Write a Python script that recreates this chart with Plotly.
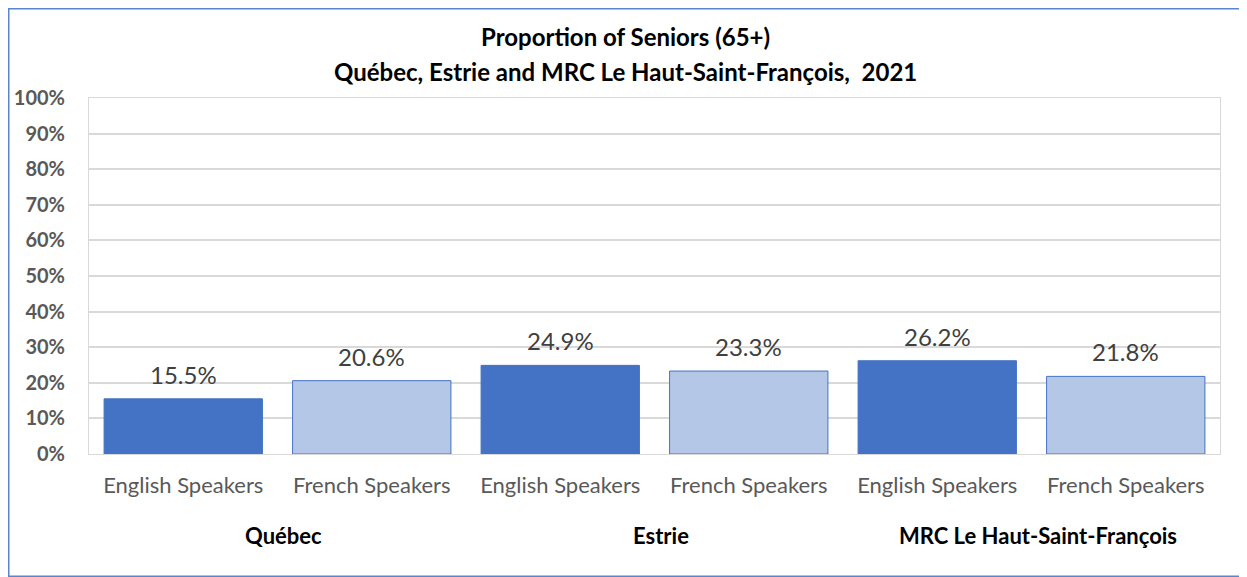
import plotly.graph_objects as go

# data
regions = ['Québec', 'Estrie', 'MRC Le Haut-Saint-François']
speakers = ['English Speakers', 'French Speakers'] * 3
seniors = [0.155, 0.206, 0.249, 0.233, 0.262, 0.218]
bar_colors = ['#4472C4', '#B4C7E7'] * 3
y_ticks = [0, 0.1, 0.2, 0.3, 0.4, 0.5, 0.6, 0.7, 0.8, 0.9, 1.0]

# unique category keys, one per bar
keys = ['%s | %s' % (regions[i // 2], speakers[i]) for i in range(len(speakers))]

# the page body has an 8px margin, so the figure is drawn 16px smaller
W, H = 1239, 569
ml, mr, mt, mb = 81, 27, 90, 123
pw, ph = W - ml - mr, H - mt - mb
title_x = (W / 2 - 2 - ml) / pw

fig = go.Figure()
fig.add_trace(go.Bar(
    x=keys,
    y=seniors,
    marker=dict(color=bar_colors, line=dict(color='#4472C4', width=1)),
    hoverinfo='x+y',
))

# value labels above each bar
for k, v in zip(keys, seniors):
    fig.add_annotation(x=k, y=v, text='%.1f%%' % (v * 100), showarrow=False,
                       yanchor='bottom', yshift=8,
                       font=dict(size=24, color='#404040'))

# region names under each pair of bars
for i, r in enumerate(regions):
    fig.add_annotation(x=2 * i + 0.5, xref='x', y=(ph - (H - 42 - mt)) / ph, yref='paper',
                       text='<b>%s</b>' % r, showarrow=False, yanchor='middle', xshift=6,
                       font=dict(size=22, color='#000000'))

# two-line title
fig.add_annotation(x=title_x, xref='paper', y=1 + (mt - 29) / ph, yref='paper',
                   xanchor='center', yanchor='middle', showarrow=False,
                   text='<b>Proportion of Seniors (65+)</b>',
                   font=dict(size=24, color='#000000'))
fig.add_annotation(x=title_x, xref='paper', y=1 + (mt - 63) / ph, yref='paper',
                   xanchor='center', yanchor='middle', showarrow=False,
                   text='<b>Québec, Estrie and MRC Le Haut-Saint-François,  2021</b>',
                   font=dict(size=24, color='#000000'))

fig.update_layout(
    width=W, height=H,
    margin=dict(l=ml, r=mr, t=mt, b=mb, autoexpand=False),
    paper_bgcolor='white', plot_bgcolor='white',
    font=dict(family='Lato, Open Sans, sans-serif'),
    bargap=0.16,
    showlegend=False,
    shapes=[dict(type='rect', xref='paper', yref='paper',
                 x0=(0.75 - ml) / pw, x1=(W - 0.75 - ml) / pw,
                 y0=-(mb - 0.75) / ph, y1=1 + (mt - 0.75) / ph,
                 line=dict(color='#5B84CF', width=1.5))],
)
fig.update_xaxes(
    tickvals=keys, ticktext=speakers,
    tickfont=dict(size=22, color='#595959'),
    ticklabelstandoff=12, automargin=False,
    showline=True, linecolor='#d9d9d9', mirror=True,
    ticks='', fixedrange=True,
)
fig.update_yaxes(
    range=[0, 1], tickvals=y_ticks, tickformat='.0%',
    tickfont=dict(size=20, color='#595959', weight='bold'),
    ticklabelstandoff=19, automargin=False,
    showgrid=True, gridcolor='#d9d9d9', gridwidth=1.5,
    showline=True, linecolor='#d9d9d9', mirror=True,
    zeroline=False, fixedrange=True,
)

fig.write_html('out.html')
